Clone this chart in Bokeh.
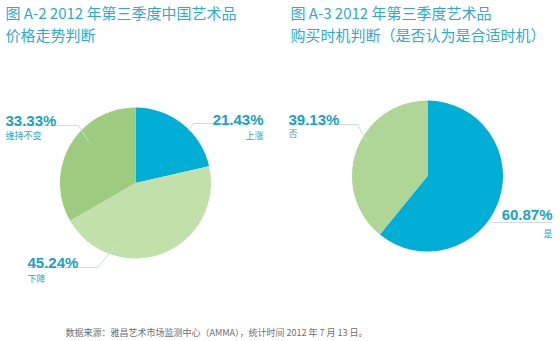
import math
from bokeh.plotting import figure
from bokeh.models import Range1d
from bokeh.core.properties import value
from bokeh.embed import file_html
from bokeh.resources import INLINE

# ---- data ----
left_labels = ["上涨", "下降", "维持不变"]
left_values = [21.43, 45.24, 33.33]
left_colors = ["#00AED6", "#C2E0AA", "#9DCB7F"]

right_labels = ["是", "否"]
right_values = [60.87, 39.13]
right_colors = ["#00AED6", "#AFD597"]

left_title = ["图 A-2 2012 年第三季度中国艺术品", "价格走势判断"]
right_title = ["图 A-3 2012 年第三季度艺术品", "购买时机判断（是否认为是合适时机）"]
footer = "数据来源：雅昌艺术市场监测中心（AMMA），统计时间 2012 年 7 月 13 日。"

W, H = 560, 341
CJK = "Noto Sans CJK SC"
LAT = "Liberation Sans"
TITLE_C = "#2EAAD2"
PCT_C = "#17A2C8"
SUB_C = "#2FA6C9"
LINE_C = "#C9DCE3"

p = figure(width=W, height=H, output_backend="svg", toolbar_location=None,
           x_range=Range1d(0, W), y_range=Range1d(0, H), min_border=0)
p.xaxis.visible = False
p.yaxis.visible = False
p.grid.visible = False
p.outline_line_color = None
p.background_fill_color = "white"
p.border_fill_color = "white"


def Y(py):
    return H - py


def pie(cx, cy, r, vals, cols):
    total = sum(vals)
    starts, ends = [], []
    cum = 0.0
    for v in vals:
        starts.append(math.pi / 2 - 2 * math.pi * cum / total)
        cum += v
        ends.append(math.pi / 2 - 2 * math.pi * cum / total)
    p.wedge(x=[cx] * len(vals), y=[Y(cy)] * len(vals), radius=r,
            start_angle=starts, end_angle=ends, direction="clock",
            fill_color=cols, line_color=None)


pie(135, 182.5, 75.5, left_values, left_colors)
pie(427, 175.5, 75.5, right_values, right_colors)

# leader lines (layout)
leaders = [
    [(188, 130), (193, 123), (263, 123)],
    [(5, 125), (78, 125), (88, 141)],
    [(27, 267), (97, 267), (118, 242)],
    [(288, 124), (357, 124), (367, 142)],
    [(491, 222), (552, 222)],
]
p.multi_line(xs=[[a for a, b in l] for l in leaders],
             ys=[[Y(b) for a, b in l] for l in leaders],
             line_color=LINE_C, line_width=1)


def pct(v):
    return f"{v:.2f}%"


# label layout: (x, baseline y of pct, y of sub label, align)
lab_layout_left = [(263, 119, 135, "right"), (27, 262, 278, "left"), (5, 120, 135, "left")]
lab_layout_right = [(552, 214, 233, "right"), (288, 119, 133, "left")]

for vals, labs, lay in [(left_values, left_labels, lab_layout_left),
                        (right_values, right_labels, lab_layout_right)]:
    for v, lab, (x, yb, ys, al) in zip(vals, labs, lay):
        p.text(x=[x], y=[Y(yb)], text=[pct(v)], text_font=value(LAT),
               text_font_style="bold", text_font_size="15px", text_color=PCT_C,
               text_align=al, text_baseline="alphabetic")
        p.text(x=[x], y=[Y(ys)], text=[lab], text_font=value(CJK),
               text_font_size="9px", text_color=SUB_C,
               text_align=al, text_baseline="middle")

# titles
for tx, lines in [(5, left_title), (290, right_title)]:
    for i, t in enumerate(lines):
        p.text(x=[tx], y=[Y(12 + 22 * i)], text=[t], text_font=value(CJK),
               text_font_size="15px", text_color=TITLE_C,
               text_align="left", text_baseline="middle")

p.text(x=[65], y=[Y(332)], text=[footer], text_font=value(CJK),
       text_font_size="9px", text_color="#6E6E6E",
       text_align="left", text_baseline="middle")

open("out.html", "w").write(file_html(p, INLINE))
